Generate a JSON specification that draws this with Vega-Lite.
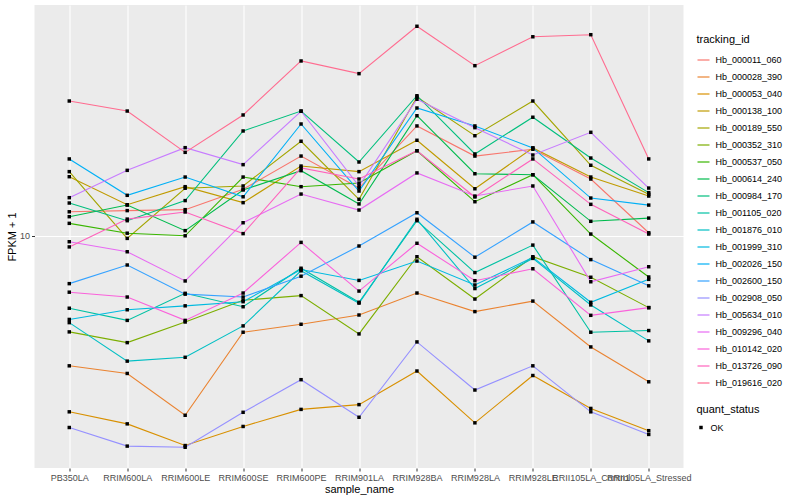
{
  "$schema": "https://vega.github.io/schema/vega-lite/v6.json",
  "autosize": {"type": "none"},
  "width": 649,
  "height": 463,
  "padding": {"left": 34.5, "top": 5, "right": 116.5, "bottom": 32},
  "background": "white",
  "config": {
    "font": "Liberation Sans",
    "view": {"stroke": null, "fill": "#EBEBEB"},
    "axis": {
      "domain": false,
      "grid": true,
      "gridColor": "#FFFFFF",
      "gridWidth": 1.1,
      "tickColor": "#333333",
      "tickSize": 3,
      "labelFontSize": 9,
      "labelColor": "#4D4D4D",
      "labelPadding": 2,
      "titleFontSize": 11,
      "titleFontWeight": "normal",
      "titleColor": "#000000",
      "labelFont": "Liberation Sans",
      "titleFont": "Liberation Sans"
    },
    "legend": {
      "titleFontSize": 11,
      "titleFontWeight": "normal",
      "titleColor": "#000000",
      "labelFontSize": 9,
      "labelColor": "#000000",
      "titleFont": "Liberation Sans",
      "labelFont": "Liberation Sans",
      "rowPadding": 5,
      "labelOffset": 5,
      "titlePadding": 8
    }
  },
  "data": {"values": [
{"tracking_id":"Hb_000011_060","sample_name":"PB350LA","fpkm":11.18,"quant_status":"OK"},
{"tracking_id":"Hb_000011_060","sample_name":"RRIM600LA","fpkm":11.24,"quant_status":"OK"},
{"tracking_id":"Hb_000011_060","sample_name":"RRIM600LE","fpkm":11.29,"quant_status":"OK"},
{"tracking_id":"Hb_000011_060","sample_name":"RRIM600SE","fpkm":12.40,"quant_status":"OK"},
{"tracking_id":"Hb_000011_060","sample_name":"RRIM600PE","fpkm":14.45,"quant_status":"OK"},
{"tracking_id":"Hb_000011_060","sample_name":"RRIM901LA","fpkm":12.47,"quant_status":"OK"},
{"tracking_id":"Hb_000011_060","sample_name":"RRIM928BA","fpkm":16.60,"quant_status":"OK"},
{"tracking_id":"Hb_000011_060","sample_name":"RRIM928LA","fpkm":14.45,"quant_status":"OK"},
{"tracking_id":"Hb_000011_060","sample_name":"RRIM928LE","fpkm":14.91,"quant_status":"OK"},
{"tracking_id":"Hb_000011_060","sample_name":"RRII105LA_Control","fpkm":13.00,"quant_status":"OK"},
{"tracking_id":"Hb_000011_060","sample_name":"RRII105LA_Stressed","fpkm":10.15,"quant_status":"OK"},
{"tracking_id":"Hb_000028_390","sample_name":"PB350LA","fpkm":5.50,"quant_status":"OK"},
{"tracking_id":"Hb_000028_390","sample_name":"RRIM600LA","fpkm":5.31,"quant_status":"OK"},
{"tracking_id":"Hb_000028_390","sample_name":"RRIM600LE","fpkm":4.38,"quant_status":"OK"},
{"tracking_id":"Hb_000028_390","sample_name":"RRIM600SE","fpkm":6.42,"quant_status":"OK"},
{"tracking_id":"Hb_000028_390","sample_name":"RRIM600PE","fpkm":6.66,"quant_status":"OK"},
{"tracking_id":"Hb_000028_390","sample_name":"RRIM901LA","fpkm":6.95,"quant_status":"OK"},
{"tracking_id":"Hb_000028_390","sample_name":"RRIM928BA","fpkm":7.69,"quant_status":"OK"},
{"tracking_id":"Hb_000028_390","sample_name":"RRIM928LA","fpkm":7.06,"quant_status":"OK"},
{"tracking_id":"Hb_000028_390","sample_name":"RRIM928LE","fpkm":7.41,"quant_status":"OK"},
{"tracking_id":"Hb_000028_390","sample_name":"RRII105LA_Control","fpkm":6.00,"quant_status":"OK"},
{"tracking_id":"Hb_000028_390","sample_name":"RRII105LA_Stressed","fpkm":5.11,"quant_status":"OK"},
{"tracking_id":"Hb_000053_040","sample_name":"PB350LA","fpkm":4.45,"quant_status":"OK"},
{"tracking_id":"Hb_000053_040","sample_name":"RRIM600LA","fpkm":4.21,"quant_status":"OK"},
{"tracking_id":"Hb_000053_040","sample_name":"RRIM600LE","fpkm":3.81,"quant_status":"OK"},
{"tracking_id":"Hb_000053_040","sample_name":"RRIM600SE","fpkm":4.16,"quant_status":"OK"},
{"tracking_id":"Hb_000053_040","sample_name":"RRIM600PE","fpkm":4.50,"quant_status":"OK"},
{"tracking_id":"Hb_000053_040","sample_name":"RRIM901LA","fpkm":4.60,"quant_status":"OK"},
{"tracking_id":"Hb_000053_040","sample_name":"RRIM928BA","fpkm":5.37,"quant_status":"OK"},
{"tracking_id":"Hb_000053_040","sample_name":"RRIM928LA","fpkm":4.23,"quant_status":"OK"},
{"tracking_id":"Hb_000053_040","sample_name":"RRIM928LE","fpkm":5.26,"quant_status":"OK"},
{"tracking_id":"Hb_000053_040","sample_name":"RRII105LA_Control","fpkm":4.52,"quant_status":"OK"},
{"tracking_id":"Hb_000053_040","sample_name":"RRII105LA_Stressed","fpkm":4.08,"quant_status":"OK"},
{"tracking_id":"Hb_000138_100","sample_name":"PB350LA","fpkm":13.14,"quant_status":"OK"},
{"tracking_id":"Hb_000138_100","sample_name":"RRIM600LA","fpkm":11.55,"quant_status":"OK"},
{"tracking_id":"Hb_000138_100","sample_name":"RRIM600LE","fpkm":12.55,"quant_status":"OK"},
{"tracking_id":"Hb_000138_100","sample_name":"RRIM600SE","fpkm":11.66,"quant_status":"OK"},
{"tracking_id":"Hb_000138_100","sample_name":"RRIM600PE","fpkm":13.80,"quant_status":"OK"},
{"tracking_id":"Hb_000138_100","sample_name":"RRIM901LA","fpkm":13.45,"quant_status":"OK"},
{"tracking_id":"Hb_000138_100","sample_name":"RRIM928BA","fpkm":15.54,"quant_status":"OK"},
{"tracking_id":"Hb_000138_100","sample_name":"RRIM928LA","fpkm":12.43,"quant_status":"OK"},
{"tracking_id":"Hb_000138_100","sample_name":"RRIM928LE","fpkm":15.00,"quant_status":"OK"},
{"tracking_id":"Hb_000138_100","sample_name":"RRII105LA_Control","fpkm":13.12,"quant_status":"OK"},
{"tracking_id":"Hb_000138_100","sample_name":"RRII105LA_Stressed","fpkm":12.02,"quant_status":"OK"},
{"tracking_id":"Hb_000189_550","sample_name":"PB350LA","fpkm":13.45,"quant_status":"OK"},
{"tracking_id":"Hb_000189_550","sample_name":"RRIM600LA","fpkm":9.89,"quant_status":"OK"},
{"tracking_id":"Hb_000189_550","sample_name":"RRIM600LE","fpkm":12.46,"quant_status":"OK"},
{"tracking_id":"Hb_000189_550","sample_name":"RRIM600SE","fpkm":12.59,"quant_status":"OK"},
{"tracking_id":"Hb_000189_550","sample_name":"RRIM600PE","fpkm":15.47,"quant_status":"OK"},
{"tracking_id":"Hb_000189_550","sample_name":"RRIM901LA","fpkm":11.84,"quant_status":"OK"},
{"tracking_id":"Hb_000189_550","sample_name":"RRIM928BA","fpkm":18.97,"quant_status":"OK"},
{"tracking_id":"Hb_000189_550","sample_name":"RRIM928LA","fpkm":15.87,"quant_status":"OK"},
{"tracking_id":"Hb_000189_550","sample_name":"RRIM928LE","fpkm":18.62,"quant_status":"OK"},
{"tracking_id":"Hb_000189_550","sample_name":"RRII105LA_Control","fpkm":13.85,"quant_status":"OK"},
{"tracking_id":"Hb_000189_550","sample_name":"RRII105LA_Stressed","fpkm":12.12,"quant_status":"OK"},
{"tracking_id":"Hb_000352_310","sample_name":"PB350LA","fpkm":6.43,"quant_status":"OK"},
{"tracking_id":"Hb_000352_310","sample_name":"RRIM600LA","fpkm":6.12,"quant_status":"OK"},
{"tracking_id":"Hb_000352_310","sample_name":"RRIM600LE","fpkm":6.73,"quant_status":"OK"},
{"tracking_id":"Hb_000352_310","sample_name":"RRIM600SE","fpkm":7.44,"quant_status":"OK"},
{"tracking_id":"Hb_000352_310","sample_name":"RRIM600PE","fpkm":7.60,"quant_status":"OK"},
{"tracking_id":"Hb_000352_310","sample_name":"RRIM901LA","fpkm":6.37,"quant_status":"OK"},
{"tracking_id":"Hb_000352_310","sample_name":"RRIM928BA","fpkm":9.09,"quant_status":"OK"},
{"tracking_id":"Hb_000352_310","sample_name":"RRIM928LA","fpkm":7.48,"quant_status":"OK"},
{"tracking_id":"Hb_000352_310","sample_name":"RRIM928LE","fpkm":9.09,"quant_status":"OK"},
{"tracking_id":"Hb_000352_310","sample_name":"RRII105LA_Control","fpkm":8.27,"quant_status":"OK"},
{"tracking_id":"Hb_000352_310","sample_name":"RRII105LA_Stressed","fpkm":7.19,"quant_status":"OK"},
{"tracking_id":"Hb_000537_050","sample_name":"PB350LA","fpkm":10.60,"quant_status":"OK"},
{"tracking_id":"Hb_000537_050","sample_name":"RRIM600LA","fpkm":10.13,"quant_status":"OK"},
{"tracking_id":"Hb_000537_050","sample_name":"RRIM600LE","fpkm":10.01,"quant_status":"OK"},
{"tracking_id":"Hb_000537_050","sample_name":"RRIM600SE","fpkm":13.12,"quant_status":"OK"},
{"tracking_id":"Hb_000537_050","sample_name":"RRIM600PE","fpkm":12.55,"quant_status":"OK"},
{"tracking_id":"Hb_000537_050","sample_name":"RRIM901LA","fpkm":12.76,"quant_status":"OK"},
{"tracking_id":"Hb_000537_050","sample_name":"RRIM928BA","fpkm":14.81,"quant_status":"OK"},
{"tracking_id":"Hb_000537_050","sample_name":"RRIM928LA","fpkm":11.71,"quant_status":"OK"},
{"tracking_id":"Hb_000537_050","sample_name":"RRIM928LE","fpkm":13.26,"quant_status":"OK"},
{"tracking_id":"Hb_000537_050","sample_name":"RRII105LA_Control","fpkm":10.09,"quant_status":"OK"},
{"tracking_id":"Hb_000537_050","sample_name":"RRII105LA_Stressed","fpkm":8.28,"quant_status":"OK"},
{"tracking_id":"Hb_000614_240","sample_name":"PB350LA","fpkm":10.93,"quant_status":"OK"},
{"tracking_id":"Hb_000614_240","sample_name":"RRIM600LA","fpkm":11.53,"quant_status":"OK"},
{"tracking_id":"Hb_000614_240","sample_name":"RRIM600LE","fpkm":10.25,"quant_status":"OK"},
{"tracking_id":"Hb_000614_240","sample_name":"RRIM600SE","fpkm":12.36,"quant_status":"OK"},
{"tracking_id":"Hb_000614_240","sample_name":"RRIM600PE","fpkm":13.51,"quant_status":"OK"},
{"tracking_id":"Hb_000614_240","sample_name":"RRIM901LA","fpkm":11.59,"quant_status":"OK"},
{"tracking_id":"Hb_000614_240","sample_name":"RRIM928BA","fpkm":17.40,"quant_status":"OK"},
{"tracking_id":"Hb_000614_240","sample_name":"RRIM928LA","fpkm":13.32,"quant_status":"OK"},
{"tracking_id":"Hb_000614_240","sample_name":"RRIM928LE","fpkm":13.26,"quant_status":"OK"},
{"tracking_id":"Hb_000614_240","sample_name":"RRII105LA_Control","fpkm":10.70,"quant_status":"OK"},
{"tracking_id":"Hb_000614_240","sample_name":"RRII105LA_Stressed","fpkm":10.86,"quant_status":"OK"},
{"tracking_id":"Hb_000984_170","sample_name":"PB350LA","fpkm":11.64,"quant_status":"OK"},
{"tracking_id":"Hb_000984_170","sample_name":"RRIM600LA","fpkm":10.73,"quant_status":"OK"},
{"tracking_id":"Hb_000984_170","sample_name":"RRIM600LE","fpkm":11.77,"quant_status":"OK"},
{"tracking_id":"Hb_000984_170","sample_name":"RRIM600SE","fpkm":16.22,"quant_status":"OK"},
{"tracking_id":"Hb_000984_170","sample_name":"RRIM600PE","fpkm":17.78,"quant_status":"OK"},
{"tracking_id":"Hb_000984_170","sample_name":"RRIM901LA","fpkm":14.06,"quant_status":"OK"},
{"tracking_id":"Hb_000984_170","sample_name":"RRIM928BA","fpkm":19.08,"quant_status":"OK"},
{"tracking_id":"Hb_000984_170","sample_name":"RRIM928LA","fpkm":14.59,"quant_status":"OK"},
{"tracking_id":"Hb_000984_170","sample_name":"RRIM928LE","fpkm":17.28,"quant_status":"OK"},
{"tracking_id":"Hb_000984_170","sample_name":"RRII105LA_Control","fpkm":14.32,"quant_status":"OK"},
{"tracking_id":"Hb_000984_170","sample_name":"RRII105LA_Stressed","fpkm":12.21,"quant_status":"OK"},
{"tracking_id":"Hb_001105_020","sample_name":"PB350LA","fpkm":7.17,"quant_status":"OK"},
{"tracking_id":"Hb_001105_020","sample_name":"RRIM600LA","fpkm":6.78,"quant_status":"OK"},
{"tracking_id":"Hb_001105_020","sample_name":"RRIM600LE","fpkm":7.68,"quant_status":"OK"},
{"tracking_id":"Hb_001105_020","sample_name":"RRIM600SE","fpkm":7.22,"quant_status":"OK"},
{"tracking_id":"Hb_001105_020","sample_name":"RRIM600PE","fpkm":8.62,"quant_status":"OK"},
{"tracking_id":"Hb_001105_020","sample_name":"RRIM901LA","fpkm":7.37,"quant_status":"OK"},
{"tracking_id":"Hb_001105_020","sample_name":"RRIM928BA","fpkm":10.73,"quant_status":"OK"},
{"tracking_id":"Hb_001105_020","sample_name":"RRIM928LA","fpkm":8.45,"quant_status":"OK"},
{"tracking_id":"Hb_001105_020","sample_name":"RRIM928LE","fpkm":9.59,"quant_status":"OK"},
{"tracking_id":"Hb_001105_020","sample_name":"RRII105LA_Control","fpkm":6.42,"quant_status":"OK"},
{"tracking_id":"Hb_001105_020","sample_name":"RRII105LA_Stressed","fpkm":6.47,"quant_status":"OK"},
{"tracking_id":"Hb_001876_010","sample_name":"PB350LA","fpkm":6.71,"quant_status":"OK"},
{"tracking_id":"Hb_001876_010","sample_name":"RRIM600LA","fpkm":5.62,"quant_status":"OK"},
{"tracking_id":"Hb_001876_010","sample_name":"RRIM600LE","fpkm":5.72,"quant_status":"OK"},
{"tracking_id":"Hb_001876_010","sample_name":"RRIM600SE","fpkm":6.61,"quant_status":"OK"},
{"tracking_id":"Hb_001876_010","sample_name":"RRIM600PE","fpkm":8.52,"quant_status":"OK"},
{"tracking_id":"Hb_001876_010","sample_name":"RRIM901LA","fpkm":7.34,"quant_status":"OK"},
{"tracking_id":"Hb_001876_010","sample_name":"RRIM928BA","fpkm":10.80,"quant_status":"OK"},
{"tracking_id":"Hb_001876_010","sample_name":"RRIM928LA","fpkm":7.85,"quant_status":"OK"},
{"tracking_id":"Hb_001876_010","sample_name":"RRIM928LE","fpkm":9.02,"quant_status":"OK"},
{"tracking_id":"Hb_001876_010","sample_name":"RRII105LA_Control","fpkm":7.28,"quant_status":"OK"},
{"tracking_id":"Hb_001876_010","sample_name":"RRII105LA_Stressed","fpkm":6.17,"quant_status":"OK"},
{"tracking_id":"Hb_001999_310","sample_name":"PB350LA","fpkm":6.81,"quant_status":"OK"},
{"tracking_id":"Hb_001999_310","sample_name":"RRIM600LA","fpkm":7.12,"quant_status":"OK"},
{"tracking_id":"Hb_001999_310","sample_name":"RRIM600LE","fpkm":7.25,"quant_status":"OK"},
{"tracking_id":"Hb_001999_310","sample_name":"RRIM600SE","fpkm":7.39,"quant_status":"OK"},
{"tracking_id":"Hb_001999_310","sample_name":"RRIM600PE","fpkm":8.57,"quant_status":"OK"},
{"tracking_id":"Hb_001999_310","sample_name":"RRIM901LA","fpkm":8.15,"quant_status":"OK"},
{"tracking_id":"Hb_001999_310","sample_name":"RRIM928BA","fpkm":8.91,"quant_status":"OK"},
{"tracking_id":"Hb_001999_310","sample_name":"RRIM928LA","fpkm":7.98,"quant_status":"OK"},
{"tracking_id":"Hb_001999_310","sample_name":"RRIM928LE","fpkm":9.06,"quant_status":"OK"},
{"tracking_id":"Hb_001999_310","sample_name":"RRII105LA_Control","fpkm":7.37,"quant_status":"OK"},
{"tracking_id":"Hb_001999_310","sample_name":"RRII105LA_Stressed","fpkm":8.19,"quant_status":"OK"},
{"tracking_id":"Hb_002026_150","sample_name":"PB350LA","fpkm":14.26,"quant_status":"OK"},
{"tracking_id":"Hb_002026_150","sample_name":"RRIM600LA","fpkm":12.06,"quant_status":"OK"},
{"tracking_id":"Hb_002026_150","sample_name":"RRIM600LE","fpkm":13.12,"quant_status":"OK"},
{"tracking_id":"Hb_002026_150","sample_name":"RRIM600SE","fpkm":11.98,"quant_status":"OK"},
{"tracking_id":"Hb_002026_150","sample_name":"RRIM600PE","fpkm":16.75,"quant_status":"OK"},
{"tracking_id":"Hb_002026_150","sample_name":"RRIM901LA","fpkm":12.30,"quant_status":"OK"},
{"tracking_id":"Hb_002026_150","sample_name":"RRIM928BA","fpkm":18.03,"quant_status":"OK"},
{"tracking_id":"Hb_002026_150","sample_name":"RRIM928LA","fpkm":16.60,"quant_status":"OK"},
{"tracking_id":"Hb_002026_150","sample_name":"RRIM928LE","fpkm":15.00,"quant_status":"OK"},
{"tracking_id":"Hb_002026_150","sample_name":"RRII105LA_Control","fpkm":11.91,"quant_status":"OK"},
{"tracking_id":"Hb_002026_150","sample_name":"RRII105LA_Stressed","fpkm":11.53,"quant_status":"OK"},
{"tracking_id":"Hb_002600_150","sample_name":"PB350LA","fpkm":8.03,"quant_status":"OK"},
{"tracking_id":"Hb_002600_150","sample_name":"RRIM600LA","fpkm":8.75,"quant_status":"OK"},
{"tracking_id":"Hb_002600_150","sample_name":"RRIM600LE","fpkm":7.65,"quant_status":"OK"},
{"tracking_id":"Hb_002600_150","sample_name":"RRIM600SE","fpkm":7.55,"quant_status":"OK"},
{"tracking_id":"Hb_002600_150","sample_name":"RRIM600PE","fpkm":8.31,"quant_status":"OK"},
{"tracking_id":"Hb_002600_150","sample_name":"RRIM901LA","fpkm":9.55,"quant_status":"OK"},
{"tracking_id":"Hb_002600_150","sample_name":"RRIM928BA","fpkm":11.13,"quant_status":"OK"},
{"tracking_id":"Hb_002600_150","sample_name":"RRIM928LA","fpkm":9.07,"quant_status":"OK"},
{"tracking_id":"Hb_002600_150","sample_name":"RRIM928LE","fpkm":10.67,"quant_status":"OK"},
{"tracking_id":"Hb_002600_150","sample_name":"RRII105LA_Control","fpkm":8.97,"quant_status":"OK"},
{"tracking_id":"Hb_002600_150","sample_name":"RRII105LA_Stressed","fpkm":7.95,"quant_status":"OK"},
{"tracking_id":"Hb_002908_050","sample_name":"PB350LA","fpkm":4.14,"quant_status":"OK"},
{"tracking_id":"Hb_002908_050","sample_name":"RRIM600LA","fpkm":3.80,"quant_status":"OK"},
{"tracking_id":"Hb_002908_050","sample_name":"RRIM600LE","fpkm":3.78,"quant_status":"OK"},
{"tracking_id":"Hb_002908_050","sample_name":"RRIM600SE","fpkm":4.44,"quant_status":"OK"},
{"tracking_id":"Hb_002908_050","sample_name":"RRIM600PE","fpkm":5.16,"quant_status":"OK"},
{"tracking_id":"Hb_002908_050","sample_name":"RRIM901LA","fpkm":4.34,"quant_status":"OK"},
{"tracking_id":"Hb_002908_050","sample_name":"RRIM928BA","fpkm":6.14,"quant_status":"OK"},
{"tracking_id":"Hb_002908_050","sample_name":"RRIM928LA","fpkm":4.92,"quant_status":"OK"},
{"tracking_id":"Hb_002908_050","sample_name":"RRIM928LE","fpkm":5.50,"quant_status":"OK"},
{"tracking_id":"Hb_002908_050","sample_name":"RRII105LA_Control","fpkm":4.45,"quant_status":"OK"},
{"tracking_id":"Hb_002908_050","sample_name":"RRII105LA_Stressed","fpkm":4.01,"quant_status":"OK"},
{"tracking_id":"Hb_005634_010","sample_name":"PB350LA","fpkm":11.93,"quant_status":"OK"},
{"tracking_id":"Hb_005634_010","sample_name":"RRIM600LA","fpkm":13.53,"quant_status":"OK"},
{"tracking_id":"Hb_005634_010","sample_name":"RRIM600LE","fpkm":15.02,"quant_status":"OK"},
{"tracking_id":"Hb_005634_010","sample_name":"RRIM600SE","fpkm":13.89,"quant_status":"OK"},
{"tracking_id":"Hb_005634_010","sample_name":"RRIM600PE","fpkm":17.76,"quant_status":"OK"},
{"tracking_id":"Hb_005634_010","sample_name":"RRIM901LA","fpkm":12.59,"quant_status":"OK"},
{"tracking_id":"Hb_005634_010","sample_name":"RRIM928BA","fpkm":18.77,"quant_status":"OK"},
{"tracking_id":"Hb_005634_010","sample_name":"RRIM928LA","fpkm":16.47,"quant_status":"OK"},
{"tracking_id":"Hb_005634_010","sample_name":"RRIM928LE","fpkm":14.52,"quant_status":"OK"},
{"tracking_id":"Hb_005634_010","sample_name":"RRII105LA_Control","fpkm":16.12,"quant_status":"OK"},
{"tracking_id":"Hb_005634_010","sample_name":"RRII105LA_Stressed","fpkm":12.47,"quant_status":"OK"},
{"tracking_id":"Hb_009296_040","sample_name":"PB350LA","fpkm":9.74,"quant_status":"OK"},
{"tracking_id":"Hb_009296_040","sample_name":"RRIM600LA","fpkm":9.30,"quant_status":"OK"},
{"tracking_id":"Hb_009296_040","sample_name":"RRIM600LE","fpkm":8.13,"quant_status":"OK"},
{"tracking_id":"Hb_009296_040","sample_name":"RRIM600SE","fpkm":10.63,"quant_status":"OK"},
{"tracking_id":"Hb_009296_040","sample_name":"RRIM600PE","fpkm":12.13,"quant_status":"OK"},
{"tracking_id":"Hb_009296_040","sample_name":"RRIM901LA","fpkm":11.27,"quant_status":"OK"},
{"tracking_id":"Hb_009296_040","sample_name":"RRIM928BA","fpkm":13.37,"quant_status":"OK"},
{"tracking_id":"Hb_009296_040","sample_name":"RRIM928LA","fpkm":12.02,"quant_status":"OK"},
{"tracking_id":"Hb_009296_040","sample_name":"RRIM928LE","fpkm":12.59,"quant_status":"OK"},
{"tracking_id":"Hb_009296_040","sample_name":"RRII105LA_Control","fpkm":8.10,"quant_status":"OK"},
{"tracking_id":"Hb_009296_040","sample_name":"RRII105LA_Stressed","fpkm":8.68,"quant_status":"OK"},
{"tracking_id":"Hb_010142_020","sample_name":"PB350LA","fpkm":7.72,"quant_status":"OK"},
{"tracking_id":"Hb_010142_020","sample_name":"RRIM600LA","fpkm":7.55,"quant_status":"OK"},
{"tracking_id":"Hb_010142_020","sample_name":"RRIM600LE","fpkm":6.78,"quant_status":"OK"},
{"tracking_id":"Hb_010142_020","sample_name":"RRIM600SE","fpkm":7.69,"quant_status":"OK"},
{"tracking_id":"Hb_010142_020","sample_name":"RRIM600PE","fpkm":9.71,"quant_status":"OK"},
{"tracking_id":"Hb_010142_020","sample_name":"RRIM901LA","fpkm":7.76,"quant_status":"OK"},
{"tracking_id":"Hb_010142_020","sample_name":"RRIM928BA","fpkm":9.67,"quant_status":"OK"},
{"tracking_id":"Hb_010142_020","sample_name":"RRIM928LA","fpkm":8.14,"quant_status":"OK"},
{"tracking_id":"Hb_010142_020","sample_name":"RRIM928LE","fpkm":8.60,"quant_status":"OK"},
{"tracking_id":"Hb_010142_020","sample_name":"RRII105LA_Control","fpkm":6.94,"quant_status":"OK"},
{"tracking_id":"Hb_010142_020","sample_name":"RRII105LA_Stressed","fpkm":7.19,"quant_status":"OK"},
{"tracking_id":"Hb_013726_090","sample_name":"PB350LA","fpkm":9.51,"quant_status":"OK"},
{"tracking_id":"Hb_013726_090","sample_name":"RRIM600LA","fpkm":10.81,"quant_status":"OK"},
{"tracking_id":"Hb_013726_090","sample_name":"RRIM600LE","fpkm":11.17,"quant_status":"OK"},
{"tracking_id":"Hb_013726_090","sample_name":"RRIM600SE","fpkm":10.11,"quant_status":"OK"},
{"tracking_id":"Hb_013726_090","sample_name":"RRIM600PE","fpkm":13.68,"quant_status":"OK"},
{"tracking_id":"Hb_013726_090","sample_name":"RRIM901LA","fpkm":13.00,"quant_status":"OK"},
{"tracking_id":"Hb_013726_090","sample_name":"RRIM928BA","fpkm":14.81,"quant_status":"OK"},
{"tracking_id":"Hb_013726_090","sample_name":"RRIM928LA","fpkm":11.97,"quant_status":"OK"},
{"tracking_id":"Hb_013726_090","sample_name":"RRIM928LE","fpkm":14.26,"quant_status":"OK"},
{"tracking_id":"Hb_013726_090","sample_name":"RRII105LA_Control","fpkm":11.57,"quant_status":"OK"},
{"tracking_id":"Hb_013726_090","sample_name":"RRII105LA_Stressed","fpkm":10.09,"quant_status":"OK"},
{"tracking_id":"Hb_019616_020","sample_name":"PB350LA","fpkm":18.62,"quant_status":"OK"},
{"tracking_id":"Hb_019616_020","sample_name":"RRIM600LA","fpkm":17.78,"quant_status":"OK"},
{"tracking_id":"Hb_019616_020","sample_name":"RRIM600LE","fpkm":14.70,"quant_status":"OK"},
{"tracking_id":"Hb_019616_020","sample_name":"RRIM600SE","fpkm":17.46,"quant_status":"OK"},
{"tracking_id":"Hb_019616_020","sample_name":"RRIM600PE","fpkm":22.39,"quant_status":"OK"},
{"tracking_id":"Hb_019616_020","sample_name":"RRIM901LA","fpkm":21.12,"quant_status":"OK"},
{"tracking_id":"Hb_019616_020","sample_name":"RRIM928BA","fpkm":26.27,"quant_status":"OK"},
{"tracking_id":"Hb_019616_020","sample_name":"RRIM928LA","fpkm":21.91,"quant_status":"OK"},
{"tracking_id":"Hb_019616_020","sample_name":"RRIM928LE","fpkm":25.03,"quant_status":"OK"},
{"tracking_id":"Hb_019616_020","sample_name":"RRII105LA_Control","fpkm":25.27,"quant_status":"OK"},
{"tracking_id":"Hb_019616_020","sample_name":"RRII105LA_Stressed","fpkm":14.26,"quant_status":"OK"}
  ]},
  "encoding": {
    "x": {
      "field": "sample_name",
      "type": "nominal",
      "sort": ["PB350LA","RRIM600LA","RRIM600LE","RRIM600SE","RRIM600PE","RRIM901LA","RRIM928BA","RRIM928LA","RRIM928LE","RRII105LA_Control","RRII105LA_Stressed"],
      "scale": {"type": "point", "padding": 0.6},
      "axis": {"title": "sample_name", "labelAngle": 0, "labelOverlap": false, "labelBound": false, "titlePadding": 1}
    },
    "y": {
      "field": "fpkm",
      "type": "quantitative",
      "scale": {"type": "log", "domain": [3.4356, 28.973], "nice": false, "zero": false},
      "axis": {"title": "FPKM + 1", "values": [10], "format": "d", "titlePadding": 2}
    }
  },
  "layer": [
    {
      "mark": {"type": "line", "strokeWidth": 1.1},
      "encoding": {
        "color": {
          "field": "tracking_id",
          "type": "nominal",
          "scale": {
            "domain": ["Hb_000011_060","Hb_000028_390","Hb_000053_040","Hb_000138_100","Hb_000189_550","Hb_000352_310","Hb_000537_050","Hb_000614_240","Hb_000984_170","Hb_001105_020","Hb_001876_010","Hb_001999_310","Hb_002026_150","Hb_002600_150","Hb_002908_050","Hb_005634_010","Hb_009296_040","Hb_010142_020","Hb_013726_090","Hb_019616_020"],
            "range": ["#F8766D","#EA8331","#D89000","#C09B00","#A3A500","#7CAE00","#39B600","#00BB4E","#00BF7D","#00C1A3","#00BFC4","#00BAE0","#00B0F6","#35A2FF","#9590FF","#C77CFF","#E76BF3","#FA62DB","#FF62BC","#FF6C90"]
          },
          "legend": {
            "title": "tracking_id",
            "orient": "none",
            "legendX": 662,
            "legendY": 29,
            "symbolType": "stroke",
            "symbolSize": 144,
            "symbolStrokeWidth": 1.2
          }
        }
      }
    },
    {
      "mark": {"type": "point", "filled": true, "color": "#000000", "opacity": 1, "size": 12},
      "encoding": {
        "shape": {
          "field": "quant_status",
          "type": "nominal",
          "scale": {"domain": ["OK"], "range": ["square"]},
          "legend": {
            "title": "quant_status",
            "orient": "none",
            "legendX": 662,
            "legendY": 399,
            "symbolFillColor": "#000000",
            "symbolStrokeColor": "#000000",
            "symbolSize": 12
          }
        }
      }
    }
  ]
}
